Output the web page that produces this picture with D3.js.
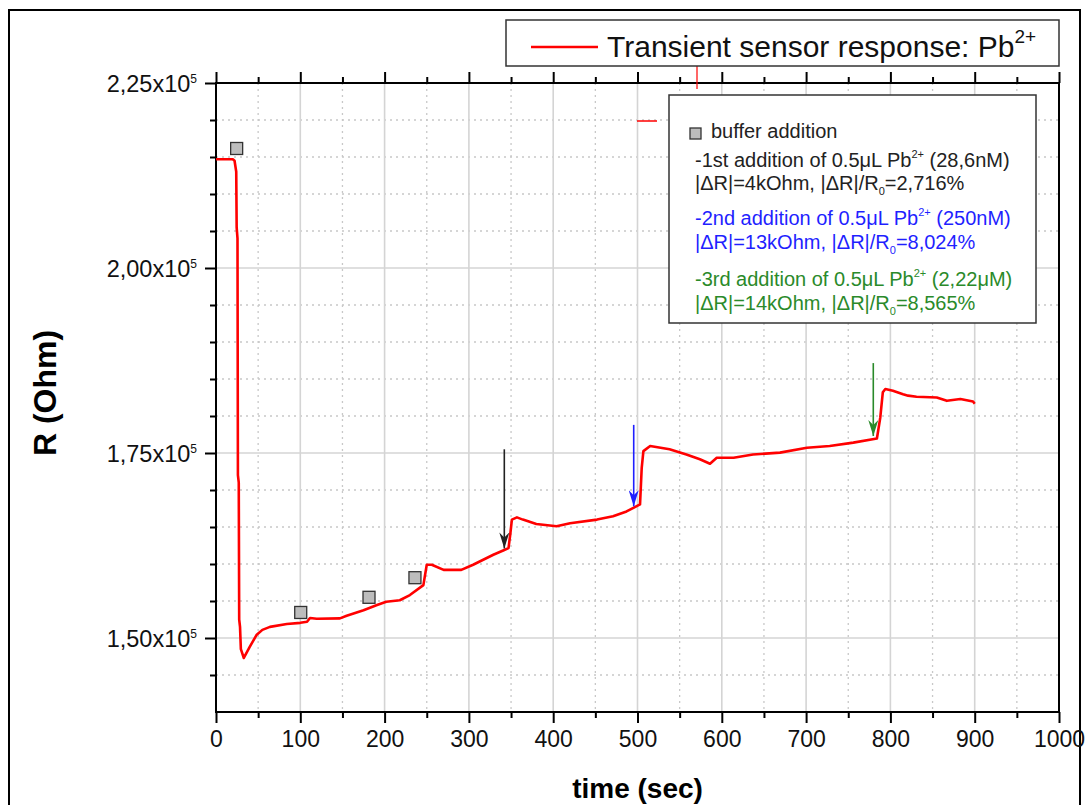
<!DOCTYPE html>
<html>
<head>
<meta charset="utf-8">
<script src="https://cdn.jsdelivr.net/npm/d3@7"></script>
<style>
  body { margin: 0; background: #fff; }
  svg text { font-family: Arial, "Liberation Sans", sans-serif; }
</style>
</head>
<body>
<div id="chart"></div>
<script>
// temps (s) i resistència (Ohm) llegits de la corba
const timeSec = [0, 20, 22, 24, 24.5, 25.5, 26, 27, 27.5, 28.5, 29.5, 33, 40, 48, 55, 64, 84, 100, 108, 111.5, 119.5, 147,
    155, 175, 191, 202, 218, 230, 246, 250, 256, 270, 291, 305, 329, 342, 347, 349, 351, 357, 364, 380, 404, 420,
    452, 471, 487, 503, 505, 507, 515, 538, 558, 574, 586, 594, 614, 637, 669, 701, 728, 756, 784, 788, 791, 794,
    803, 815, 821, 831, 855, 867, 883, 898, 900];
const resistance = [214700, 214700, 214500, 213000, 205500, 204000, 172000, 171000, 152500, 151500, 148500, 147300,
    148800, 150400, 151100, 151500, 151900, 152050, 152200, 152700, 152600, 152650, 153000, 153750, 154450, 154900,
    155100, 155800, 157150, 159900, 159900, 159200, 159200, 159900, 161250, 161900, 162150, 163950, 166000, 166300,
    166000, 165400, 165100, 165500, 166000, 166450, 167100, 168050, 173000, 175250, 175950, 175500, 174800, 174150,
    173550, 174350, 174350, 174800, 175050, 175700, 175950, 176400, 176950, 179800, 183200, 183650, 183400, 182950,
    182750, 182600, 182500, 182050, 182300, 181950, 181650];

// punts d'addició de tampó
const bufferTime = [24.5, 100.5, 181.5, 236];
const bufferR = [216150, 153450, 155500, 158150];

// fletxes d'addició de Pb2+
const arrowTime = [342, 495.5, 779.7];
const arrowTop = [175500, 178800, 187150];
const arrowTip = [162100, 167800, 177300];
const arrowColor = ["#222222", "#1f1fff", "#2a8a2a"];

// ticks
const xTicks = [0, 100, 200, 300, 400, 500, 600, 700, 800, 900, 1000];
const xMinor = [50, 150, 250, 350, 450, 550, 650, 750, 850, 950];
const yTicks = [150000, 175000, 200000, 225000];
const yMinor = [145000, 155000, 160000, 165000, 170000, 180000, 185000, 190000, 195000, 205000, 210000, 215000, 220000];

// dimensions
const W = 1088, H = 805;
const margin = { top: 83, right: 29, bottom: 93, left: 216 };
const width = W - margin.left - margin.right;
const height = H - margin.top - margin.bottom;

const svg = d3.select("#chart").append("svg")
    .attr("width", W).attr("height", H);

// marc exterior
svg.append("rect")
    .attr("x", 9).attr("y", 10).attr("width", 1071).attr("height", 810)
    .attr("fill", "none").attr("stroke", "#000").attr("stroke-width", 2);

const g = svg.append("g")
    .attr("transform", `translate(${margin.left},${margin.top})`);

const x = d3.scaleLinear().domain([0, 1000]).range([0, width]);
const y = d3.scaleLinear().domain([140000, 225000]).range([height, 0]);

// graella
g.selectAll(".gx-minor").data(xMinor).enter().append("line")
    .attr("x1", d => x(d)).attr("x2", d => x(d)).attr("y1", 0).attr("y2", height)
    .attr("stroke", "#c8c8c8").attr("stroke-width", 1.3).attr("stroke-dasharray", "2,4");
g.selectAll(".gy-minor").data(yMinor).enter().append("line")
    .attr("y1", d => y(d)).attr("y2", d => y(d)).attr("x1", 0).attr("x2", width)
    .attr("stroke", "#c8c8c8").attr("stroke-width", 1.3).attr("stroke-dasharray", "2,4");
g.selectAll(".gx").data(xTicks.slice(1, -1)).enter().append("line")
    .attr("x1", d => x(d)).attr("x2", d => x(d)).attr("y1", 0).attr("y2", height)
    .attr("stroke", "#d4d4d4").attr("stroke-width", 1.6);
g.selectAll(".gy").data(yTicks.slice(0, -1)).enter().append("line")
    .attr("y1", d => y(d)).attr("y2", d => y(d)).attr("x1", 0).attr("x2", width)
    .attr("stroke", "#d4d4d4").attr("stroke-width", 1.6);

// eixos
function styleAxis(sel) {
    sel.select(".domain").remove();
    sel.selectAll("line").attr("stroke", "#000").attr("stroke-width", 2);
}

const xAxis = g.append("g")
    .attr("transform", `translate(0,${height})`)
    .call(d3.axisBottom(x).tickValues(xTicks).tickSize(11).tickPadding(8).tickFormat(d3.format("d")));
styleAxis(xAxis);
xAxis.selectAll("text").style("font-size", "23px").attr("fill", "#111");
g.append("g").attr("transform", `translate(0,${height})`)
    .call(d3.axisBottom(x).tickValues(xMinor).tickSize(6).tickFormat(""))
    .call(styleAxis);

g.append("g").call(d3.axisTop(x).tickValues(xTicks).tickSize(11).tickFormat("")).call(styleAxis);
g.append("g").call(d3.axisTop(x).tickValues(xMinor).tickSize(6).tickFormat("")).call(styleAxis);

const yAxis = g.append("g")
    .call(d3.axisLeft(y).tickValues(yTicks).tickSize(11).tickPadding(24).tickFormat(""));
styleAxis(yAxis);
yAxis.selectAll(".tick").append("text")
    .attr("x", -19).attr("dy", "0.35em")
    .attr("text-anchor", "end")
    .style("font-size", "23.5px").attr("fill", "#111")
    .each(function(d) {
        const t = d3.select(this);
        t.append("tspan").text(d3.format(".2f")(d / 1e5).replace(".", ",") + "x10");
        t.append("tspan").attr("dy", "-0.7em").style("font-size", "12px").text("5");
    });
g.append("g").call(d3.axisLeft(y).tickValues(yMinor).tickSize(6).tickFormat("")).call(styleAxis);

// marc del gràfic
g.append("rect")
    .attr("width", width).attr("height", height)
    .attr("fill", "none").attr("stroke", "#000").attr("stroke-width", 2);

// títols dels eixos
svg.append("text")
    .attr("x", margin.left + x(500)).attr("y", 798)
    .attr("text-anchor", "middle")
    .style("font-size", "28px").style("font-weight", "bold")
    .text("time (sec)");

svg.append("text")
    .attr("transform", "translate(56,393) rotate(-90)")
    .attr("text-anchor", "middle")
    .style("font-size", "32px").style("font-weight", "bold")
    .text("R (Ohm)");

// corba
const points = timeSec.map((t, i) => [t, resistance[i]]);
g.append("path")
    .datum(points)
    .attr("fill", "none")
    .attr("stroke", "#ff0000")
    .attr("stroke-width", 2.6)
    .attr("stroke-linejoin", "round")
    .attr("d", d3.line().x(d => x(d[0])).y(d => y(d[1])));

// quadrats de tampó
g.selectAll(".buffer").data(bufferTime).enter().append("rect")
    .attr("x", d => x(d) - 6)
    .attr("y", (d, i) => y(bufferR[i]) - 6)
    .attr("width", 12).attr("height", 12)
    .attr("fill", "#bdbdbd").attr("stroke", "#333").attr("stroke-width", 1.3);

// fletxes
const defs = svg.append("defs");
arrowColor.forEach((c, i) => {
    defs.append("marker")
        .attr("id", "head" + i)
        .attr("viewBox", "0 0 16 10")
        .attr("refX", 16).attr("refY", 5)
        .attr("markerWidth", 16).attr("markerHeight", 10)
        .attr("markerUnits", "userSpaceOnUse")
        .attr("orient", "auto")
        .append("path")
        .attr("d", "M0,0 L16,5 L0,10 L5,5 Z")
        .attr("fill", c);
});
g.selectAll(".arrow").data(arrowTime).enter().append("line")
    .attr("x1", d => x(d)).attr("x2", d => x(d))
    .attr("y1", (d, i) => y(arrowTop[i]))
    .attr("y2", (d, i) => y(arrowTip[i]))
    .attr("stroke", (d, i) => arrowColor[i])
    .attr("stroke-width", 1.6)
    .attr("marker-end", (d, i) => `url(#head${i})`);

// traces vermelles soltes
svg.append("line").attr("x1", 697).attr("x2", 697).attr("y1", 66).attr("y2", 89)
    .attr("stroke", "#ff0000").attr("stroke-width", 1.2);
svg.append("line").attr("x1", 637).attr("x2", 657).attr("y1", 121).attr("y2", 121)
    .attr("stroke", "#ff0000").attr("stroke-width", 1.5);

// llegenda superior
svg.append("rect")
    .attr("x", 506).attr("y", 20).attr("width", 553).attr("height", 46)
    .attr("fill", "#fff").attr("stroke", "#333").attr("stroke-width", 1.5);
svg.append("line")
    .attr("x1", 531).attr("x2", 598).attr("y1", 47).attr("y2", 47)
    .attr("stroke", "#ff0000").attr("stroke-width", 2.5);
const legText = svg.append("text")
    .attr("x", 607).attr("y", 57)
    .style("font-size", "30px").attr("fill", "#111");
legText.append("tspan").text("Transient sensor response: Pb");
legText.append("tspan").attr("dy", -14).style("font-size", "19px").text("2+");

// quadre d'anotacions
svg.append("rect")
    .attr("x", 669).attr("y", 95).attr("width", 367).attr("height", 228)
    .attr("fill", "#fff").attr("stroke", "#333").attr("stroke-width", 1.5);
svg.append("rect")
    .attr("x", 690).attr("y", 128).attr("width", 11).attr("height", 11)
    .attr("fill", "#bdbdbd").attr("stroke", "#333").attr("stroke-width", 1.3);
svg.append("text")
    .attr("x", 711).attr("y", 138)
    .style("font-size", "20px").attr("fill", "#222")
    .text("buffer addition");

const notes = [
    { y: 167, color: arrowColor[0], kind: "add", ord: "-1st", conc: "(28,6nM)" },
    { y: 190, color: arrowColor[0], kind: "dr", dr: "4", pct: "2,716%" },
    { y: 225, color: arrowColor[1], kind: "add", ord: "-2nd", conc: "(250nM)" },
    { y: 249, color: arrowColor[1], kind: "dr", dr: "13", pct: "8,024%" },
    { y: 286, color: arrowColor[2], kind: "add", ord: "-3rd", conc: "(2,22μM)" },
    { y: 310, color: arrowColor[2], kind: "dr", dr: "14", pct: "8,565%" }
];
notes.forEach(n => {
    const t = svg.append("text")
        .attr("x", 695).attr("y", n.y)
        .style("font-size", "20px").attr("fill", n.color);
    if (n.kind === "add") {
        t.append("tspan").text(n.ord + " addition of 0.5μL Pb");
        t.append("tspan").attr("dy", -9).style("font-size", "11px").text("2+");
        t.append("tspan").attr("dy", 9).text(" " + n.conc);
    } else {
        t.append("tspan").text("|ΔR|=" + n.dr + "kOhm, |ΔR|/R");
        t.append("tspan").attr("dy", 5).style("font-size", "11px").text("0");
        t.append("tspan").attr("dy", -5).text("=" + n.pct);
    }
});
</script>
</body>
</html>
